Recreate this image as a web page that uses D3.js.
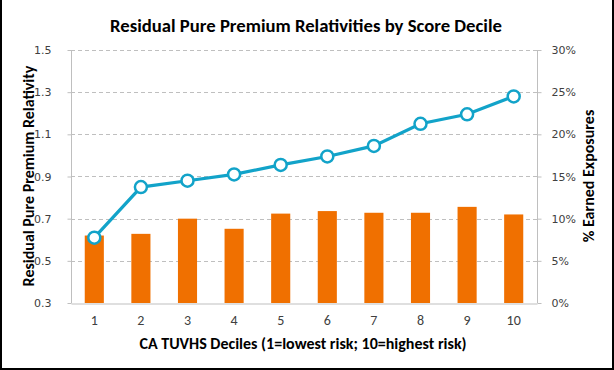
<!DOCTYPE html>
<html>
<head>
<meta charset="utf-8">
<script src="https://cdnjs.cloudflare.com/ajax/libs/d3/7.8.5/d3.min.js"></script>
<style>
  body { margin: 0; background: #fff; }
  svg { display: block; }
</style>
</head>
<body>
<div id="chart"></div>
<script>
var deciles = ["1", "2", "3", "4", "5", "6", "7", "8", "9", "10"];
var relativity = [0.61, 0.85, 0.88, 0.91, 0.955, 0.995, 1.045, 1.15, 1.195, 1.28];
var exposure = [0.080, 0.082, 0.100, 0.088, 0.106, 0.109, 0.107, 0.107, 0.114, 0.105];
var leftTicks = [0.3, 0.5, 0.7, 0.9, 1.1, 1.3, 1.5];
var rightTicks = [0, 0.05, 0.10, 0.15, 0.20, 0.25, 0.30];

var width = 614, height = 370;
var m = { left: 71, right: 77, top: 50, bottom: 67 };

var svg = d3.select("#chart").append("svg")
  .attr("width", width)
  .attr("height", height);

svg.append("rect").attr("width", width).attr("height", height).attr("fill", "#fff");

var x = d3.scaleBand()
  .domain(deciles)
  .range([m.left, width - m.right])
  .paddingInner(0.59)
  .paddingOuter(0.295);

var yL = d3.scaleLinear().domain([0.3, 1.5]).range([height - m.bottom, m.top]);
var yR = d3.scaleLinear().domain([0, 0.3]).range([height - m.bottom, m.top]);

// gridlines
svg.append("g")
  .selectAll("line")
  .data(leftTicks.slice(1))
  .enter().append("line")
    .attr("x1", m.left)
    .attr("x2", width - m.right)
    .attr("y1", d => Math.round(yL(d)) + 0.5)
    .attr("y2", d => Math.round(yL(d)) + 0.5)
    .attr("stroke", "#bfbfbf")
    .attr("stroke-dasharray", "4,3");

// bars
svg.append("g")
  .selectAll("rect")
  .data(exposure)
  .enter().append("rect")
    .attr("x", (d, i) => x(deciles[i]))
    .attr("width", x.bandwidth())
    .attr("y", d => yR(d))
    .attr("height", d => yR(0) - yR(d))
    .attr("fill", "#f07000");

// axes
var axisL = svg.append("g")
  .attr("transform", "translate(" + (m.left + 0.5) + ",0)")
  .call(d3.axisLeft(yL).tickValues(leftTicks).tickFormat(d3.format(".1f")).tickSize(4).tickPadding(16));

var axisR = svg.append("g")
  .attr("transform", "translate(" + (width - m.right + 0.5) + ",0)")
  .call(d3.axisRight(yR).tickValues(rightTicks).tickFormat(d3.format(".0%")).tickSize(4).tickPadding(10));

var axisB = svg.append("g")
  .attr("transform", "translate(0," + (height - m.bottom + 0.5) + ")")
  .call(d3.axisBottom(x).tickSize(0).tickPadding(12));

[axisL, axisR, axisB].forEach(function(a) {
  a.select(".domain").attr("stroke", "#bfbfbf");
  a.selectAll(".tick line").attr("stroke", "#bfbfbf");
  a.selectAll("text")
    .attr("fill", "#404040")
    .style("font-family", "Tahoma, 'DejaVu Sans', sans-serif")
    .style("font-size", "11px");
});
axisL.select(".domain").attr("d", "M0," + yL(0.3) + "V" + yL(1.5));
axisR.select(".domain").attr("d", "M0," + yR(0) + "V" + yR(0.3));
axisB.selectAll("text").style("font-family", "Calibri, Carlito, 'Liberation Sans', sans-serif").style("font-size", "14px");

// line
var line = d3.line()
  .x((d, i) => x(deciles[i]) + x.bandwidth() / 2)
  .y(d => yL(d));

svg.append("path")
  .datum(relativity)
  .attr("d", line)
  .attr("fill", "none")
  .attr("stroke", "#12a3c9")
  .attr("stroke-width", 3.2);

svg.append("g")
  .selectAll("circle")
  .data(relativity)
  .enter().append("circle")
    .attr("cx", (d, i) => x(deciles[i]) + x.bandwidth() / 2)
    .attr("cy", d => yL(d))
    .attr("r", 6)
    .attr("fill", "#fff")
    .attr("stroke", "#12a3c9")
    .attr("stroke-width", 2.5);

// titles
var titleFont = "Carlito, Calibri, 'Open Sans', sans-serif";

svg.append("text")
  .attr("x", 306)
  .attr("y", 32)
  .attr("text-anchor", "middle")
  .attr("font-family", titleFont)
  .attr("font-weight", "bold")
  .attr("font-size", "18.7px")
  .attr("fill", "#000")
  .text("Residual Pure Premium Relativities by Score Decile");

svg.append("text")
  .attr("x", 303)
  .attr("y", 349)
  .attr("text-anchor", "middle")
  .attr("font-family", titleFont)
  .attr("font-weight", "bold")
  .attr("font-size", "16px")
  .attr("fill", "#000")
  .text("CA TUVHS Deciles (1=lowest risk; 10=highest risk)");

svg.append("text")
  .attr("transform", "translate(34,176) rotate(-90)")
  .attr("text-anchor", "middle")
  .attr("font-family", titleFont)
  .attr("font-weight", "bold")
  .attr("font-size", "16px")
  .attr("fill", "#000")
  .text("Residual Pure Premium Relativity");

svg.append("text")
  .attr("transform", "translate(594,176) rotate(-90)")
  .attr("text-anchor", "middle")
  .attr("font-family", titleFont)
  .attr("font-weight", "bold")
  .attr("font-size", "16px")
  .attr("fill", "#000")
  .text("% Earned Exposures");

// frame
svg.append("line").attr("x1", 1).attr("x2", 1).attr("y1", 0).attr("y2", height).attr("stroke", "#000").attr("stroke-width", 2);
svg.append("line").attr("x1", 0).attr("x2", width).attr("y1", height - 1).attr("y2", height - 1).attr("stroke", "#000").attr("stroke-width", 2);
svg.append("line").attr("x1", width - 1).attr("x2", width - 1).attr("y1", 0).attr("y2", height).attr("stroke", "#000").attr("stroke-width", 2);
</script>
</body>
</html>
